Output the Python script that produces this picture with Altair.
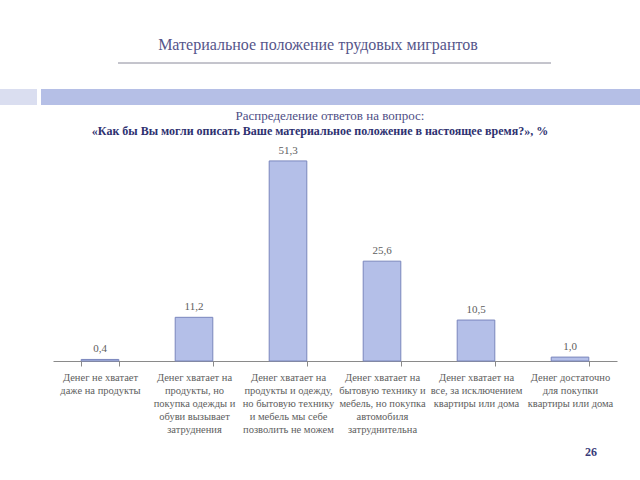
import altair as alt
import pandas as pd

categories = [
    "Денег не хватает|даже на продукты",
    "Денег хватает на|продукты, но|покупка одежды и|обуви вызывает|затруднения",
    "Денег хватает на|продукты и одежду,|но бытовую технику|и мебель мы себе|позволить не можем",
    "Денег хватает на|бытовую технику и|мебель, но покупка|автомобиля|затруднительна",
    "Денег хватает на|все, за исключением|квартиры или дома",
    "Денег достаточно|для покупки|квартиры или дома",
]
values = [0.4, 11.2, 51.3, 25.6, 10.5, 1.0]

title_text = "Материальное положение трудовых мигрантов"
subtitle_line1 = "Распределение ответов на вопрос:"
subtitle_line2 = "«Как бы Вы могли описать Ваше материальное положение в настоящее время?», %"
page_number = "26"

SERIF = "'Liberation Serif', 'DejaVu Serif', serif"

df = pd.DataFrame({"cat": categories, "v": values})
one = pd.DataFrame({"k": [0]})

x_enc = alt.X(
    "cat:N",
    sort=categories,
    title=None,
    scale=alt.Scale(paddingInner=0.6, paddingOuter=0.3),
    axis=alt.Axis(
        labelAngle=0,
        labelExpr="split(datum.label, '|')",
        labelFont=SERIF,
        labelFontSize=10.5,
        labelColor="#5e5e5e",
        labelLineHeight=13,
        labelPadding=6,
        labelOverlap=False,
        labelBound=False,
        labelLimit=200,
        domainColor="#8a8a8a",
        tickColor="#8a8a8a",
        tickSize=5,
        tickBand="extent",
    ),
)
y_enc = alt.Y("v:Q", axis=None, scale=alt.Scale(domain=[0, 60]))

bars = alt.Chart(df).mark_bar(
    fill="#b4bfe8", stroke="#7a86bd", strokeWidth=1
).encode(x=x_enc, y=y_enc)

labels = alt.Chart(df).transform_calculate(
    lbl="replace(format(datum.v, '.1f'), '.', ',')"
).mark_text(
    font=SERIF, fontSize=11, color="#5e5e5e", baseline="bottom", dy=-5
).encode(x=alt.X("cat:N", sort=categories), y="v:Q", text="lbl:N")

# decorative header elements (plot-area pixel coordinates; plot top at y=127, left at x=53)
top = 127
left = 53

title = alt.Chart(one).mark_text(
    text=title_text, font=SERIF, fontSize=16, color="#55558a", align="center", baseline="middle"
).encode(x=alt.value(318 - left), y=alt.value(45 - top))

underline = alt.Chart(one).mark_rule(color="#8a8a9a", strokeWidth=1).encode(
    x=alt.value(118 - left), x2=alt.value(551 - left), y=alt.value(63 - top)
)

band_light = alt.Chart(one).mark_rect(color="#dadef0").encode(
    x=alt.value(0 - left), x2=alt.value(37 - left), y=alt.value(89 - top), y2=alt.value(105 - top)
)
band_main = alt.Chart(one).mark_rect(color="#b5bfe6").encode(
    x=alt.value(41 - left), x2=alt.value(640 - left), y=alt.value(89 - top), y2=alt.value(105 - top)
)

sub1 = alt.Chart(one).mark_text(
    text=subtitle_line1, font=SERIF, fontSize=13, color="#4d4d85", align="center", baseline="middle"
).encode(x=alt.value(330 - left), y=alt.value(116 - top))

sub2 = alt.Chart(one).mark_text(
    text=subtitle_line2, font=SERIF, fontSize=12, fontWeight="bold", color="#2e3170",
    align="center", baseline="middle"
).encode(x=alt.value(320 - left), y=alt.value(131 - top))

page = alt.Chart(one).mark_text(
    text=page_number, font=SERIF, fontSize=12, fontWeight="bold", color="#3a3c7a",
    align="center", baseline="middle"
).encode(x=alt.value(591 - left), y=alt.value(452 - top))

chart = alt.layer(
    band_light, band_main, underline, title, sub1, sub2, bars, labels, page
).properties(
    width=564,
    height=234,
    autosize=alt.AutoSizeParams(type="none"),
    padding={"left": left, "top": top, "right": 23, "bottom": 119},
    background="white",
).configure_view(stroke=None)

chart.save("out.html", embed_options={"renderer": "svg", "actions": False})
